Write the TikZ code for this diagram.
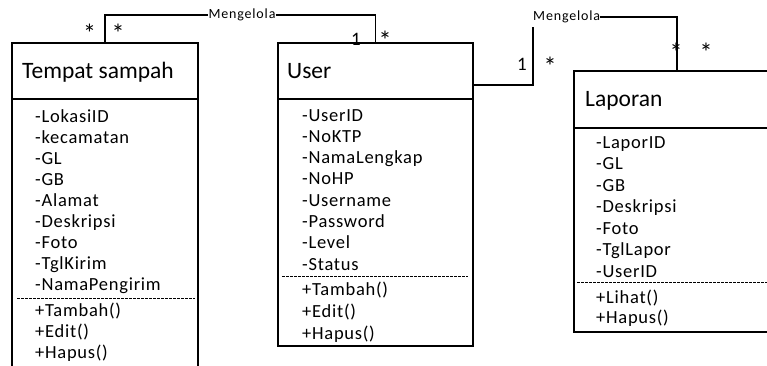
\documentclass[tikz,border=0pt]{standalone}
\usepackage{fontspec}
\setmainfont{Carlito}
\newfontfamily\itemfont[LetterSpace=4]{Carlito}
\newfontfamily\labelfont[LetterSpace=6]{Carlito}
\usetikzlibrary{fit,calc}

\begin{document}
\begin{tikzpicture}[x=1pt,y=-1pt,
  box/.style={draw, line width=1.1pt, inner sep=0pt, outer sep=0pt},
  titletext/.style={anchor=base west, inner sep=0pt, font=\fontsize{23.5}{28}\selectfont},
  item/.style={anchor=base west, inner sep=0pt, font=\itemfont\fontsize{18.5}{21}\selectfont},
  assoc/.style={line width=1.1pt},
  assoclabel/.style={inner sep=0pt, font=\labelfont\fontsize{14}{16}\selectfont},
  mult/.style={anchor=base, inner sep=0pt, font=\fontsize{19}{21}\selectfont},
  star/.style={anchor=base, inner sep=0pt, font=\fontsize{26}{28}\selectfont},
  sep/.style={dash pattern=on 2.5pt off 1.5pt, line width=1pt}
]
\useasboundingbox (0,0) rectangle (767,365);
\clip (0,0) rectangle (767,365);

% ---- class Tempat sampah ----
\node[box, fit={(12,43) (198,99)}] (ts-title) {};
\node[box, fit={(12,99) (198,420)}] (ts-body) {};
\node[titletext] (ts-name) at (22,78) {Tempat sampah};
\foreach \t [count=\i] in {-LokasiID,-kecamatan,-GL,-GB,-Alamat,-Deskripsi,-Foto,-TglKirim,-NamaPengirim}
  \node[item] (ts-a\i) at (35,{122+21*(\i-1)}) {\t};
\draw[sep] (17,298) -- (195,298);
\foreach \t [count=\i] in {+Tambah(),+Edit(),+Hapus()}
  \node[item] (ts-m\i) at (35,{316.5+21*(\i-1)}) {\t};

% ---- class User ----
\node[box, fit={(278,43) (473,99)}] (user-title) {};
\node[box, fit={(278,99) (473,346)}] (user-body) {};
\node[titletext] (user-name) at (287,78) {User};
\foreach \t [count=\i] in {-UserID,-NoKTP,-NamaLengkap,-NoHP,-Username,-Password,-Level,-Status}
  \node[item] (user-a\i) at (302,{121+21.3*(\i-1)}) {\t};
\draw[sep] (282,276) -- (468,276);
\foreach \t [count=\i] in {+Tambah(),+Edit(),+Hapus()}
  \node[item] (user-m\i) at (302,{295+22*(\i-1)}) {\t};

% ---- class Laporan ----
\node[box, fit={(574,71) (780,128)}] (lap-title) {};
\node[box, fit={(574,128) (780,332)}] (lap-body) {};
\node[titletext] (lap-name) at (585,106.5) {Laporan};
\foreach \t [count=\i] in {-LaporID,-GL,-GB,-Deskripsi,-Foto,-TglLapor,-UserID}
  \node[item] (lap-a\i) at (596,{148+21.5*(\i-1)}) {\t};
\draw[sep] (577,282) -- (767,282);
\foreach \t [count=\i] in {+Lihat(),+Hapus()}
  \node[item] (lap-m\i) at (596,{303+20*(\i-1)}) {\t};

% ---- association Tempat sampah -- User ----
\node[assoclabel] (lbl1) at (242,15) {Mengelola};
\draw[assoc] (ts-title.north) -- (ts-title.north |- lbl1.west) -- (lbl1.west);
\draw[assoc] (lbl1.east) -- (lbl1.east -| user-title.north) -- (user-title.north);
\node[star] (m1) at (89.5,42.5) {*};
\node[star] (m2) at (118,42.5) {*};
\node[mult] (m3) at (356,45) {1};
\node[star] (m4) at (385,49.5) {*};

% ---- association User -- Laporan ----
\node[assoclabel, anchor=west] (lbl2) at (533,17) {Mengelola};
\coordinate (u-out) at ($(user-title.north east)!0.75!(user-title.south east)$);
\draw[assoc] (u-out) -- (u-out -| lbl2.west) -- ($(lbl2.south west)+(0,4)$);
\draw[assoc] (lbl2.east) -- (lbl2.east -| lap-title.north) -- (lap-title.north);
\node[mult] (m5) at (522,70) {1};
\node[star] (m6) at (550,75.5) {*};
\node[star] (m7) at (676,61.5) {*};
\node[star] (m8) at (706,61.5) {*};
\end{tikzpicture}
\end{document}
